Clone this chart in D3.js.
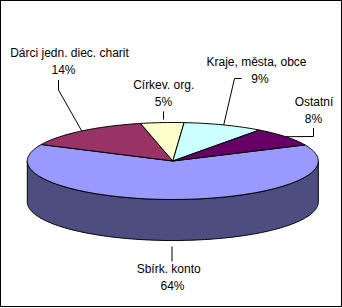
<!DOCTYPE html>
<html>
<head>
<meta charset="utf-8">
<script src="https://cdn.jsdelivr.net/npm/d3@7"></script>
<style>
  body { margin: 0; background: #fff; }
  text { font-family: "Liberation Sans", Arial, sans-serif; font-size: 12px; fill: #000; }
</style>
</head>
<body>
<script>
var categories = ["Sbírk. konto", "Dárci jedn. diec. charit", "Církev. org.", "Kraje, města, obce", "Ostatní"];
var values = [63.9, 14.4, 4.8, 8.9, 8.0];
var percentLabels = ["64%", "14%", "5%", "9%", "8%"];
var colors = ["#9999ff", "#993366", "#ffffcc", "#ccffff", "#660066"];

// label layout: centre x of each line, baseline of first line, leader elbow points
var labelLayout = [
  { x1: 168.7, x2: 172.5, y: 273, leader: [[172, 261.5]], gap: 6 },
  { x1: 69.5, x2: 63.5, y: 57, leader: [[58.5, 90], [58.5, 80]], gap: 0 },
  { x1: 163.7, x2: 163.5, y: 89, leader: [[163.5, 111.5]], gap: 3 },
  { x1: 256.5, x2: 260, y: 66, leader: [[234.5, 78.5], [241.5, 78.5]], gap: 0 },
  { x1: 314, x2: 313.5, y: 106, leader: [[313.5, 136.5], [313.5, 128]], gap: 0 }
];

var width = 342;
var height = 308;
var cx = 172.8, cy = 161, rx = 145.5, ry = 38.5, depth = 41;
var startDeg = 65.3;

var svg = d3.select("body")
  .append("svg")
  .attr("width", width)
  .attr("height", height);

svg.append("rect")
  .attr("x", 0.5).attr("y", 0.5)
  .attr("width", 341).attr("height", 306)
  .attr("fill", "#fff")
  .attr("stroke", "#000")
  .attr("stroke-width", 1);

var start = startDeg * Math.PI / 180;
var pie = d3.pie().sort(null).startAngle(start).endAngle(start + 2 * Math.PI);
var arcs = pie(values);

function pt(t, dy) {
  return [cx + rx * Math.sin(t), cy - ry * Math.cos(t) + (dy || 0)];
}
function arcPoints(a0, a1, dy) {
  var n = Math.max(2, Math.ceil(Math.abs(a1 - a0) / 0.02));
  var pts = [];
  for (var i = 0; i <= n; i++) {
    pts.push(pt(a0 + (a1 - a0) * i / n, dy));
  }
  return pts;
}
var line = d3.line();

var sideg = svg.append("g");
var topg = svg.append("g");
var leaderg = svg.append("g");
var labelg = svg.append("g");

// side walls (front half only)
arcs.forEach(function (a, i) {
  var ranges = [[Math.PI / 2, 3 * Math.PI / 2], [5 * Math.PI / 2, 7 * Math.PI / 2]];
  ranges.forEach(function (r) {
    var lo = Math.max(a.startAngle, r[0]);
    var hi = Math.min(a.endAngle, r[1]);
    if (hi <= lo) return;
    var c = d3.rgb(colors[i]);
    var dark = d3.rgb(c.r * 0.5, c.g * 0.5, c.b * 0.5);
    var pts = arcPoints(lo, hi, 0).concat(arcPoints(hi, lo, depth));
    sideg.append("path")
      .attr("d", line(pts) + "Z")
      .attr("fill", dark)
      .attr("stroke", "#000")
      .attr("stroke-width", 1)
      .attr("stroke-linejoin", "round");
  });
});

// top faces
arcs.forEach(function (a, i) {
  var pts = [[cx, cy]].concat(arcPoints(a.startAngle, a.endAngle, 0));
  topg.append("path")
    .attr("d", line(pts) + "Z")
    .attr("fill", colors[i])
    .attr("stroke", "#000")
    .attr("stroke-width", 1)
    .attr("stroke-linejoin", "round");
});

// leader lines and labels
arcs.forEach(function (a, i) {
  var mid = (a.startAngle + a.endAngle) / 2;
  var L = labelLayout[i];
  var e = pt(mid, 0);
  var m = ((mid % (2 * Math.PI)) + 2 * Math.PI) % (2 * Math.PI);
  if (m > Math.PI / 2 && m < 3 * Math.PI / 2) {
    e = pt(mid, depth);
    e[1] += L.gap;
  } else {
    e[1] -= L.gap;
  }
  if (L.gap) e[0] = L.leader[0][0];
  leaderg.append("path")
    .attr("d", line([e].concat(L.leader)))
    .attr("fill", "none")
    .attr("stroke", "#000")
    .attr("stroke-width", 1);
  labelg.append("text")
    .attr("x", L.x1).attr("y", L.y)
    .attr("text-anchor", "middle")
    .text(categories[i]);
  labelg.append("text")
    .attr("x", L.x2).attr("y", L.y + 16.5)
    .attr("text-anchor", "middle")
    .text(percentLabels[i]);
});
</script>
</body>
</html>
